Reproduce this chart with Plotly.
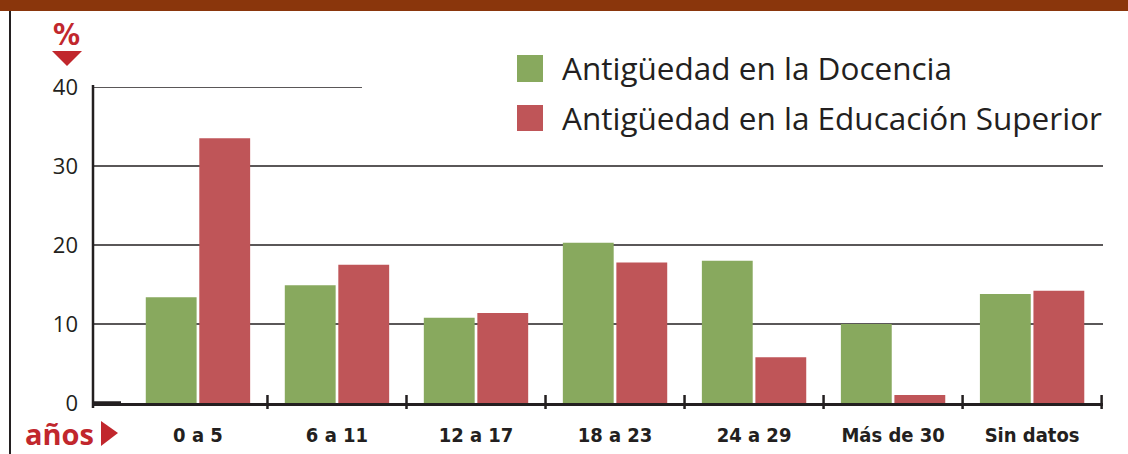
import plotly.graph_objects as go

categories = ["0 a 5", "6 a 11", "12 a 17", "18 a 23", "24 a 29", "Más de 30", "Sin datos"]
docencia = [13.4, 14.9, 10.8, 20.3, 18.0, 10.0, 13.8]
educ_superior = [33.5, 17.5, 11.4, 17.8, 5.8, 1.0, 14.2]
y_ticks = [0, 10, 20, 30, 40]
series_names = ["Antigüedad en la Docencia", "Antigüedad en la Educación Superior"]

GREEN = "#88A95E"
RED = "#BF5558"
DARK = "#231F20"
ACCENT = "#C1272D"
BROWN = "#8A360C"

W, H = 1128, 454
L, R, T, B = 93, 25, 87, 51
pw, ph = W - L - R, H - T - B

def px_x(p):
    return (p - L) / pw

def px_y(p):
    return (H - B - p) / ph

x_idx = list(range(len(categories)))

fig = go.Figure()
fig.add_trace(go.Bar(x=x_idx, y=docencia, name=series_names[0], marker_color=GREEN,
                     marker_line_width=0))
fig.add_trace(go.Bar(x=x_idx, y=educ_superior, name=series_names[1], marker_color=RED,
                     marker_line_width=0))

shapes = []
# top brown band
shapes.append(dict(type="rect", xref="paper", yref="paper", x0=px_x(-5), x1=px_x(W + 5),
                   y0=px_y(11), y1=px_y(-5), fillcolor=BROWN, line_width=0, layer="above"))
# left vertical rule
shapes.append(dict(type="line", xref="paper", yref="paper", x0=px_x(10), x1=px_x(10),
                   y0=px_y(11), y1=px_y(H + 5), line=dict(color=DARK, width=2)))
# gridlines
for v in y_ticks[1:4]:
    shapes.append(dict(type="line", xref="paper", yref="y", x0=0, x1=1, y0=v, y1=v,
                       line=dict(color=DARK, width=1.6), layer="below"))
shapes.append(dict(type="line", xref="paper", yref="y", x0=0, x1=px_x(362), y0=40, y1=40,
                   line=dict(color=DARK, width=1.6), layer="below"))
# category separator ticks
for i in range(len(categories)):
    shapes.append(dict(type="line", xref="x", yref="paper", x0=i + 0.5, x1=i + 0.5,
                       y0=px_y(395), y1=px_y(409), line=dict(color=DARK, width=2.5)))
# short thick segment at origin
shapes.append(dict(type="line", xref="paper", yref="y", x0=0, x1=px_x(121), y0=0, y1=0,
                   line=dict(color=DARK, width=3.5)))
# y-axis line
shapes.append(dict(type="line", xref="paper", yref="paper", x0=0, x1=0,
                   y0=px_y(408), y1=px_y(85), line=dict(color=DARK, width=2.5)))
# % triangle (pointing down)
shapes.append(dict(type="path", xref="paper", yref="paper",
                   path=f"M {px_x(52)} {px_y(51)} L {px_x(82)} {px_y(51)} L {px_x(67)} {px_y(66)} Z",
                   fillcolor=ACCENT, line_width=0))
# años triangle (pointing right)
shapes.append(dict(type="path", xref="paper", yref="paper",
                   path=f"M {px_x(101)} {px_y(421)} L {px_x(118)} {px_y(433)} L {px_x(101)} {px_y(446)} Z",
                   fillcolor=ACCENT, line_width=0))
# legend squares
shapes.append(dict(type="rect", xref="paper", yref="paper", x0=px_x(517), x1=px_x(543),
                   y0=px_y(82), y1=px_y(55), fillcolor=GREEN, line_width=0))
shapes.append(dict(type="rect", xref="paper", yref="paper", x0=px_x(517), x1=px_x(543),
                   y0=px_y(131), y1=px_y(105), fillcolor=RED, line_width=0))

annotations = []
annotations.append(dict(text="<b>%</b>", xref="paper", yref="paper", x=px_x(66), y=px_y(34),
                        xanchor="center", yanchor="middle", showarrow=False,
                        font=dict(family="DejaVu Sans Condensed, Open Sans", size=30, color=ACCENT)))
annotations.append(dict(text="<b>años</b>", xref="paper", yref="paper", x=px_x(96), y=px_y(433),
                        xanchor="right", yanchor="middle", showarrow=False,
                        font=dict(family="Open Sans", size=29, color=ACCENT)))
annotations.append(dict(text=series_names[0], xref="paper", yref="paper", x=px_x(560), y=px_y(68),
                        xanchor="left", yanchor="middle", showarrow=False,
                        font=dict(family="Open Sans", size=31.5, color=DARK)))
annotations.append(dict(text=series_names[1], xref="paper", yref="paper", x=px_x(560), y=px_y(118),
                        xanchor="left", yanchor="middle", showarrow=False,
                        font=dict(family="Open Sans", size=31.5, color=DARK)))

fig.update_layout(
    width=W, height=H, autosize=False,
    margin=dict(l=L, r=R, t=T, b=B, pad=0, autoexpand=False),
    paper_bgcolor="white", plot_bgcolor="white",
    barmode="group", bargap=0.23, bargroupgap=0.05,
    showlegend=False,
    shapes=shapes, annotations=annotations,
    xaxis=dict(range=[-0.755, 6.51], tickvals=x_idx, ticktext=[f"<b>{c}</b>" for c in categories],
               showgrid=False, zeroline=False, showline=True, linecolor=DARK, linewidth=2.5,
               ticks="", ticklabelstandoff=12, automargin=False,
               tickfont=dict(family="DejaVu Sans Condensed, Liberation Sans Narrow, Roboto", size=20, color=DARK)),
    yaxis=dict(range=[0, 40], tickvals=y_ticks, showgrid=False, zeroline=False,
               showline=False, ticks="", ticklabelstandoff=14, automargin=False,
               tickfont=dict(family="Open Sans", size=22, color=DARK)),
)

fig.write_html("out.html",
               config={"displayModeBar": False, "responsive": False},
               default_width=f"{W}px", default_height=f"{H}px",
               post_script="document.body.style.margin='0px';document.body.style.overflow='hidden';")
